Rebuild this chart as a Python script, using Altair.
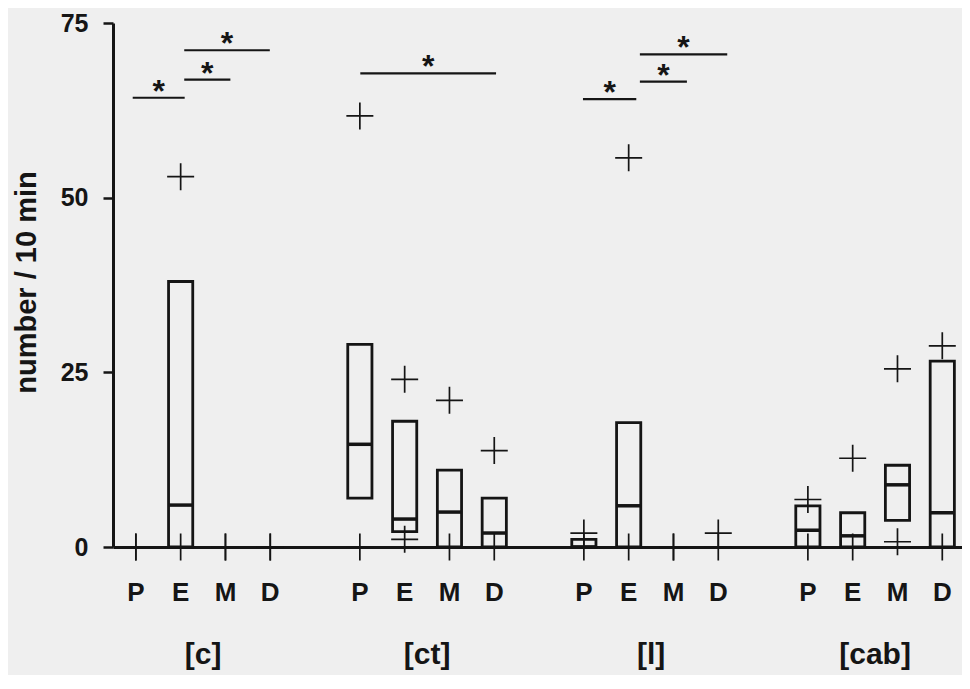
import altair as alt
import pandas as pd

# ---- data ----
groups = ["[c]", "[ct]", "[l]", "[cab]"]
group_center = [1.5, 6.5, 11.5, 16.5]
periods = ["P", "E", "M", "D"]
slots = [0, 1, 2, 3, 5, 6, 7, 8, 10, 11, 12, 13, 15, 16, 17, 18]
cat_labels = periods * 4

box_low = [None, 0, None, None, 7, 2.2, 0, 0, 0, 0, None, None, 0, 0, 3.8, 0]
box_high = [None, 38, None, None, 29, 18, 11, 7, 1.1, 17.8, None, None, 5.9, 4.9, 11.7, 26.6]
median = [None, 6, None, None, 14.7, 4, 5, 2, 0, 5.9, None, None, 2.4, 1.6, 8.9, 4.9]
max_val = [0, 53, 0, 0, 61.7, 24, 21, 13.8, 2, 55.7, 0, 2, 6.8, 12.7, 25.5, 28.8]
min_val = [0, 0, 0, 0, 0, 1.1, 0, 0, 0, 0, 0, 0, 0, 0, 0.75, 0]

sig_from = [-0.07, 1.08, 1.08, 5.01, 9.98, 11.25, 11.25]
sig_to = [1.09, 2.11, 2.99, 8.04, 11.17, 12.3, 13.2]
sig_y = [64.3, 66.9, 71.1, 67.8, 64.1, 66.6, 70.5]

half = 0.27
INK = "#151515"
FONT = "Liberation Sans"

boxes = pd.DataFrame({"slot": slots, "lo": box_low, "hi": box_high, "med": median}).dropna()
boxes["x1"] = boxes["slot"] - half
boxes["x2"] = boxes["slot"] + half

pts = pd.DataFrame({
    "slot": slots * 2,
    "value": max_val + min_val,
})
cats = pd.DataFrame({"slot": slots, "label": cat_labels})
grp = pd.DataFrame({"slot": group_center, "label": groups})
sig = pd.DataFrame({"x1": sig_from, "x2": sig_to, "y": sig_y})
sig["mid"] = (sig["x1"] + sig["x2"]) / 2

xscale = alt.Scale(domain=[-0.51, 18.44], nice=False, zero=False)
yscale = alt.Scale(domain=[0, 75], nice=False)

xaxis = alt.Axis(labels=False, ticks=False, grid=False, title=None,
                 domainWidth=3, domainColor=INK)
yaxis = alt.Axis(values=[0, 25, 50, 75], grid=False, title="number / 10 min",
                 tickSize=10, tickWidth=2.5, tickColor=INK,
                 domainWidth=3, domainColor=INK,
                 labelFont=FONT, labelFontSize=25, labelFontWeight="bold",
                 labelColor=INK, labelPadding=15,
                 titleFont=FONT, titleFontSize=29, titleFontWeight="bold",
                 titleColor=INK, titleX=-78, titleY=259, titleAngle=-90,
                 titleBaseline="alphabetic", titleAlign="center")

base_x = alt.X("x1:Q", scale=xscale, axis=xaxis)

rects = alt.Chart(boxes).mark_rect(fillOpacity=0, stroke=INK, strokeWidth=2.8).encode(
    x=base_x, x2="x2:Q",
    y=alt.Y("lo:Q", scale=yscale, axis=yaxis), y2="hi:Q",
)

meds = alt.Chart(boxes).mark_rule(color=INK, strokeWidth=3.5).encode(
    x=base_x, x2="x2:Q", y=alt.Y("med:Q", scale=yscale),
)

plus = alt.Chart(pts).mark_point(
    shape="M-1,0H1M0,-1V1", size=729, filled=False, stroke=INK,
    strokeWidth=1.7, opacity=1,
).encode(
    x=alt.X("slot:Q", scale=xscale), y=alt.Y("value:Q", scale=yscale),
)

sig_rules = alt.Chart(sig).mark_rule(color=INK, strokeWidth=2.2).encode(
    x=alt.X("x1:Q", scale=xscale), x2="x2:Q", y=alt.Y("y:Q", scale=yscale),
)
stars = alt.Chart(sig).mark_text(
    text="*", font=FONT, fontSize=32, fontWeight="bold", color=INK,
    baseline="alphabetic", dy=4,
).encode(
    x=alt.X("mid:Q", scale=xscale), y=alt.Y("y:Q", scale=yscale),
)

cat_text = alt.Chart(cats).mark_text(
    font=FONT, fontSize=26, fontWeight="bold", color=INK, baseline="middle",
).encode(
    x=alt.X("slot:Q", scale=xscale), y=alt.value(570), text="label:N",
)
grp_text = alt.Chart(grp).mark_text(
    font=FONT, fontSize=30, fontWeight="bold", color=INK, baseline="bottom",
).encode(
    x=alt.X("slot:Q", scale=xscale), y=alt.value(647), text="label:N",
)

chart = alt.layer(rects, meds, plus, sig_rules, stars, cat_text, grp_text).properties(
    width=849, height=524,
    autosize=alt.AutoSizeParams(type="none"),
    padding={"left": 105, "top": 15, "right": 0, "bottom": 128},
    background="#efefef",
).configure_view(stroke=None)

chart.save("out.html", embed_options={"renderer": "svg", "actions": False})
